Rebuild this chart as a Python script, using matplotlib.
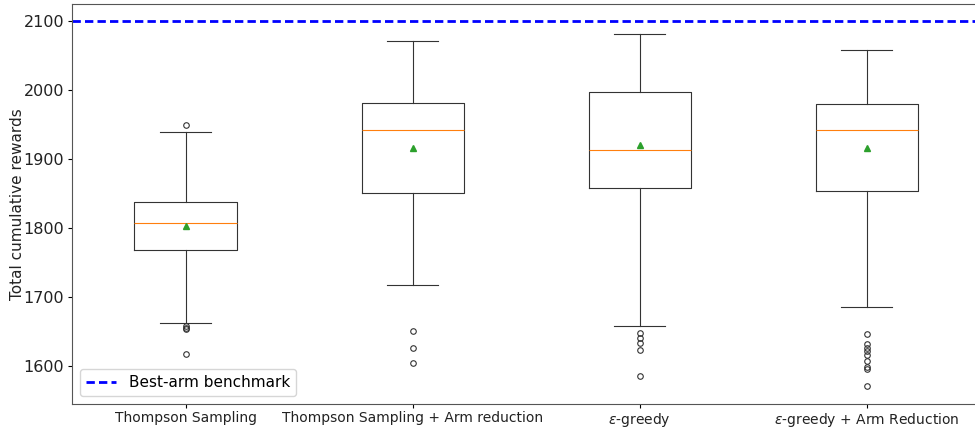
import numpy as np
import matplotlib
matplotlib.use("Agg")
import matplotlib.pyplot as plt

# Summary statistics of total cumulative reward per strategy
labels = ["Thompson Sampling", "Thompson Sampling + Arm reduction",
          r"$\epsilon$-greedy", r"$\epsilon$-greedy + Arm Reduction"]
q1 = [1768, 1851, 1858, 1854]
medians = [1807, 1942, 1912, 1942]
q3 = [1838, 1980, 1996, 1979]
means = [1802, 1916, 1920, 1916]
whisker_low = [1662, 1717, 1658, 1686]
whisker_high = [1938, 2070, 2080, 2057]
fliers = [
    [1949, 1658, 1655, 1653, 1617],
    [1651, 1626, 1604],
    [1648, 1641, 1633, 1623, 1586],
    [1646, 1632, 1626, 1622, 1616, 1607, 1599, 1596, 1571],
]
benchmark = 2100

stats = []
for i, name in enumerate(labels):
    stats.append({
        "label": name,
        "q1": q1[i], "med": medians[i], "q3": q3[i], "mean": means[i],
        "whislo": whisker_low[i], "whishi": whisker_high[i],
        "fliers": np.array(fliers[i]),
    })

fig = plt.figure(figsize=(9.75, 4.3), dpi=100)
ax = fig.add_axes([72 / 975, 26 / 430, 908.5 / 975, 400 / 430])

lw = 0.8
ax.bxp(stats, showmeans=True, widths=0.45,
       boxprops=dict(linewidth=lw, color="#333333"),
       whiskerprops=dict(linewidth=lw, color="#333333"),
       capprops=dict(linewidth=lw, color="#333333"),
       medianprops=dict(linewidth=lw, color="#ff7f0e"),
       meanprops=dict(marker="^", markerfacecolor="#2ca02c",
                      markeredgecolor="#2ca02c", markersize=4.5),
       flierprops=dict(marker="o", markersize=4, markeredgewidth=0.8,
                       markeredgecolor="#333333"))

ax.axhline(benchmark, color="blue", linestyle="--", linewidth=2,
           dashes=(3, 1.5), label="Best-arm benchmark")

ax.set_xlim(0.5, 4.5)
ax.set_ylim(1545, 2124)
ax.set_yticks([1600, 1700, 1800, 1900, 2000, 2100])
ax.tick_params(axis="y", labelsize=11.5, length=3, pad=2.5, labelcolor="#222222")
ax.tick_params(axis="x", labelsize=10, length=3, pad=2, labelcolor="#222222")
for side in ["top", "right", "left", "bottom"]:
    ax.spines[side].set_color("#555555")
ax.set_ylabel("Total cumulative rewards", fontsize=11, color="#222222")
ax.yaxis.set_label_coords(-0.052, 0.5)
ax.legend(loc="lower left", fontsize=11)

fig.savefig("out.png", dpi=100)
